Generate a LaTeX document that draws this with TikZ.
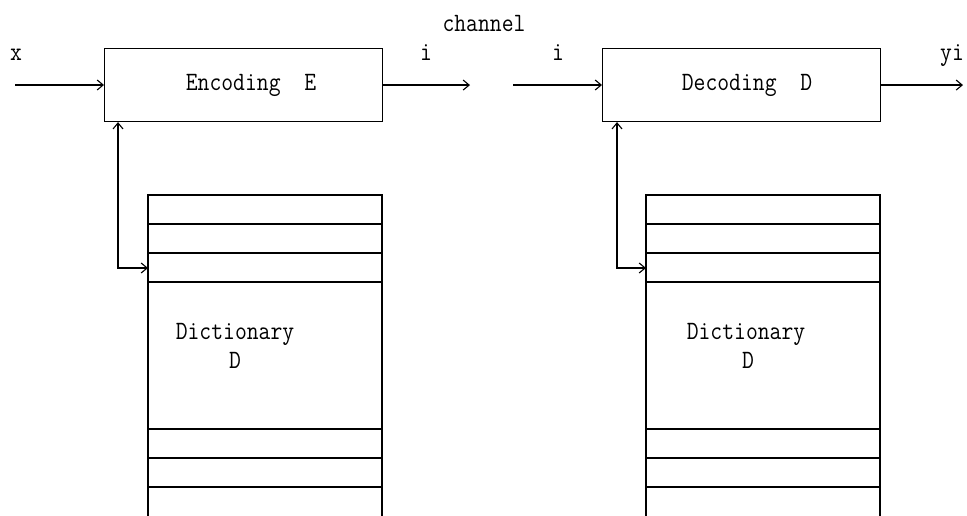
\documentclass[tikz,border=0pt]{standalone}
\usetikzlibrary{arrows.meta}
% taller monospaced lettering for all labels
\newcommand{\tallstr}[1]{\scalebox{1}[1.15]{#1}}
\begin{document}
\begin{tikzpicture}[x=1pt,y=-1pt,line width=1.1pt,
  lbl/.style={font=\fontsize{23}{23}\selectfont\ttfamily,anchor=base,inner sep=0pt},
  block/.style={draw,minimum width=278pt,minimum height=73pt,anchor=north west,inner sep=0pt},
  flow/.style={-{Straight Barb[length=6pt,width=10pt]}},
  dflow/.style={{Straight Barb[length=6pt,width=10pt]}-{Straight Barb[length=6pt,width=10pt]}}]
\useasboundingbox (0,0) rectangle (967,516);

% ---------- encoder side ----------
\node[block] (enc) at (104,48) {};
\node[lbl] (enctext) at (251,91) {\tallstr{Encoding\ \ E}};
\coordinate (xin) at (15,85);
\coordinate (iout) at (470,85);
\draw[flow] (xin) -- (xin -| enc.west);
\draw[flow] (enc.east) -- (enc.east -| iout);
\node[lbl] (xlbl) at (16,61) {\tallstr{x}};
\node[lbl] (ilbl1) at (426,61) {\tallstr{i}};

% dictionary table (open at the bottom)
\draw (148,516) -- (148,195) -- (382,195) -- (382,516);
\foreach \yy in {224,253,282,429,458,487} \draw (148,\yy) -- (382,\yy);
\coordinate (entry1) at (148,268);
\coordinate (fb1) at (118,268);
\draw[dflow] (enc.south west -| fb1) -- (fb1) -- (entry1);
\node[lbl] (dict1) at (235,339) {\tallstr{Dictionary}};
\node[lbl] (dictD1) at (235,368) {\tallstr{D}};

% ---------- channel ----------
\node[lbl] (chan) at (484,32) {\tallstr{channel}};

% ---------- decoder side ----------
\node[block] (dec) at (602,48) {};
\node[lbl] (dectext) at (747,91) {\tallstr{Decoding\ \ D}};
\coordinate (iin) at (513,85);
\coordinate (yout) at (963,85);
\draw[flow] (iin) -- (iin -| dec.west);
\draw[flow] (dec.east) -- (dec.east -| yout);
\node[lbl] (ilbl2) at (558,61) {\tallstr{i}};
\node[lbl] (ylbl) at (952,61) {\tallstr{yi}};

\draw (646,516) -- (646,195) -- (880,195) -- (880,516);
\foreach \yy in {224,253,282,429,458,487} \draw (646,\yy) -- (880,\yy);
\coordinate (entry2) at (646,268);
\coordinate (fb2) at (617,268);
\draw[dflow] (dec.south west -| fb2) -- (fb2) -- (entry2);
\node[lbl] (dict2) at (746,339) {\tallstr{Dictionary}};
\node[lbl] (dictD2) at (748,368) {\tallstr{D}};
\end{tikzpicture}
\end{document}
